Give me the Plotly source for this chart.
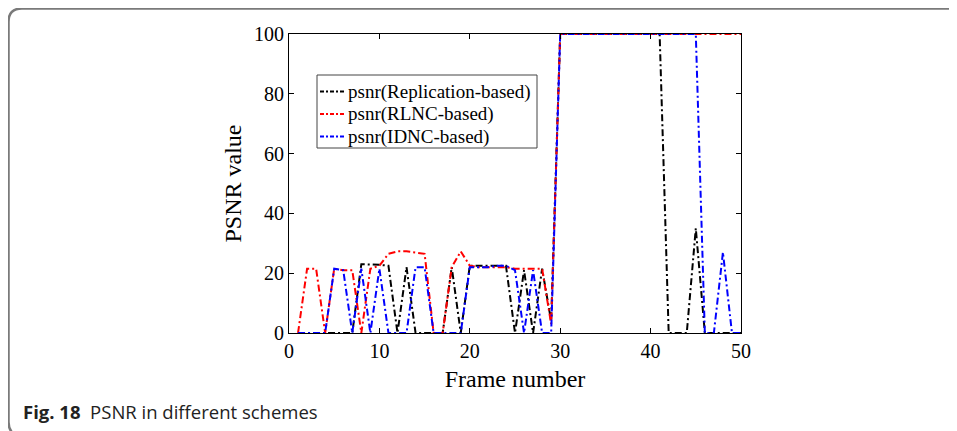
import plotly.graph_objects as go

frames = list(range(1, 51))

psnr_replication = [0, 0, 0, 0, 0, 0, 0, 23, 23, 22.8,
                    22.5, 0, 22, 0, 0, 0, 0, 22, 0, 22.5,
                    22.5, 22.5, 22.5, 22.5, 0, 21, 0, 21.5, 4, 100,
                    100, 100, 100, 100, 100, 100, 100, 100, 100, 100,
                    100, 0, 0, 0, 35, 0, 0, 0, 0, 0]

psnr_rlnc = [0, 21.5, 21.5, 0, 21.5, 21, 21, 0, 21.5, 22.5,
             26.5, 27.3, 27.3, 27, 26.5, 0, 0, 22, 27.3, 22.5,
             22, 22, 22, 22, 21.5, 21.5, 21.5, 21.5, 3, 100,
             100, 100, 100, 100, 100, 100, 100, 100, 100, 100,
             100, 100, 100, 100, 100, 100, 100, 100, 100, 100]

psnr_idnc = [0, 0, 0, 0, 21.5, 21, 0, 21.5, 0, 21.5,
             0, 0, 0, 22, 22, 0, 0, 0, 0, 22,
             22, 22, 22.5, 22.5, 21, 0, 21, 0, 0, 100,
             100, 100, 100, 100, 100, 100, 100, 100, 100, 100,
             100, 100, 100, 100, 100, 0, 0, 27, 0, 0]

series_names = ["psnr(Replication-based)", "psnr(RLNC-based)", "psnr(IDNC-based)"]
series_colors = ["#000000", "#ff0000", "#0000ff"]
x_ticks = [0, 10, 20, 30, 40, 50]
y_ticks = [0, 20, 40, 60, 80, 100]

# the page body adds an 8px offset; design in screen pixels and subtract it
OFF = 8
W, H = 957 - OFF, 431 - OFF
L, R, T, B = 289 - OFF, 741 - OFF, 34 - OFF, 333 - OFF
DASH = "7px,3px,2px,3px"


def px(x):
    return (x - OFF - L) / (R - L)


def py(y):
    return (B - (y - OFF)) / (B - T)


fig = go.Figure()
for name, vals, col in zip(series_names, [psnr_replication, psnr_rlnc, psnr_idnc], series_colors):
    fig.add_trace(go.Scatter(
        x=frames, y=vals, mode="lines", name=name, showlegend=False,
        line=dict(color=col, width=2, dash=DASH),
    ))

serif = "Liberation Serif, Times New Roman, serif"
axis_common = dict(
    showline=True, linecolor="black", linewidth=1, mirror="ticks",
    ticks="inside", ticklen=5, tickcolor="black", tickwidth=1,
    showgrid=False, zeroline=False,
    tickfont=dict(family=serif, size=20, color="black"),
)
fig.update_xaxes(range=[0, 50], tickvals=x_ticks, **axis_common,
                 title=dict(text="Frame number", font=dict(family=serif, size=24, color="black"), standoff=9))
fig.update_yaxes(range=[0, 100], tickvals=y_ticks, **axis_common,
                 title=dict(text="PSNR value", font=dict(family=serif, size=24, color="black"), standoff=5))

# legend box (drawn manually to match the compact row spacing)
fig.add_shape(type="rect", xref="paper", yref="paper",
              x0=px(317), x1=px(537), y0=py(75), y1=py(148),
              line=dict(color="#444444", width=1), fillcolor="white", layer="above")
row_y = [91.5, 114, 136.5]
for name, col, yy in zip(series_names, series_colors, row_y):
    fig.add_shape(type="line", xref="paper", yref="paper",
                  x0=px(320), x1=px(345), y0=py(yy), y1=py(yy),
                  line=dict(color=col, width=2, dash="4px,2px,2px,2px"), layer="above")
    fig.add_annotation(xref="paper", yref="paper", x=px(346), y=py(yy),
                       xanchor="left", yanchor="middle", showarrow=False, text=name,
                       font=dict(family=serif, size=19, color="black"))

# outer panel border with rounded corners
path = (f"M {px(16)},{py(436)} Q {px(8.5)},{py(431)} {px(8.5)},{py(422)} "
        f"L {px(8.5)},{py(22)} Q {px(8.5)},{py(8.5)} {px(22)},{py(8.5)} L {px(965)},{py(8.5)}")
fig.add_shape(type="path", xref="paper", yref="paper", path=path,
              line=dict(color="#7a7a7a", width=2.5), layer="above")

fig.add_annotation(
    xref="paper", yref="paper", x=px(21), y=py(411), xanchor="left", yanchor="middle",
    text="<b>Fig. 18</b>  PSNR in different schemes", showarrow=False,
    font=dict(family="Open Sans, Noto Sans, sans-serif", size=18.5, color="#222222"),
)

fig.update_layout(
    width=W, height=H,
    margin=dict(l=L, r=W - R, t=T, b=H - B),
    paper_bgcolor="white", plot_bgcolor="white",
    showlegend=False,
)

fig.write_html("out.html")
